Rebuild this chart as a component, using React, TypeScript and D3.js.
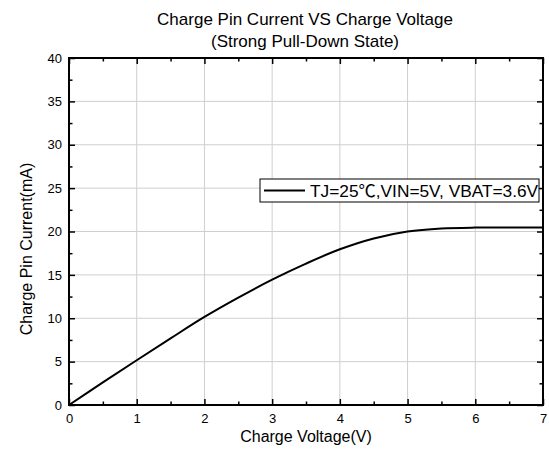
import React, { useEffect, useRef } from 'react';
import * as d3 from 'd3';

// Charge voltage (V) vs charge pin current (mA)
const voltage = [0, 0.5, 1, 1.5, 2, 2.5, 3, 3.5, 4, 4.5, 5, 5.5, 6, 6.5, 7];
const current = [0, 2.6, 5.16, 7.68, 10.15, 12.38, 14.45, 16.3, 17.95, 19.2, 20.0, 20.35, 20.45, 20.45, 20.45];

const xTicks = [0, 1, 2, 3, 4, 5, 6, 7];
const xMinor = [0.5, 1.5, 2.5, 3.5, 4.5, 5.5, 6.5];
const yTicks = [0, 5, 10, 15, 20, 25, 30, 35, 40];
const yMinor = [2.5, 7.5, 12.5, 17.5, 22.5, 27.5, 32.5, 37.5];

const titleLines = ['Charge Pin Current VS Charge Voltage', '(Strong Pull-Down State)'];
const legendLabel = 'TJ=25\u2103,VIN=5V, VBAT=3.6V';

const FONT = "Arial, 'Liberation Sans', 'Noto Sans CJK SC', sans-serif";

const App = () => {
  const ref = useRef<SVGSVGElement>(null);

  useEffect(() => {
    if (!ref.current) return;
    const svg = d3.select(ref.current);
    svg.selectAll('*').remove();

    const left = 69, right = 543, top = 58, bottom = 405;
    const x = d3.scaleLinear().domain([0, 7]).range([left, right]);
    const y = d3.scaleLinear().domain([0, 40]).range([bottom, top]);

    // grid
    const grid = svg.append('g').attr('stroke', '#cfcfcf').attr('stroke-width', 1);
    grid.selectAll('line.v')
      .data(xTicks.slice(1, -1))
      .join('line')
      .attr('class', 'v')
      .attr('x1', d => x(d)).attr('x2', d => x(d))
      .attr('y1', top).attr('y2', bottom);
    grid.selectAll('line.h')
      .data(yTicks.slice(1, -1))
      .join('line')
      .attr('class', 'h')
      .attr('x1', left).attr('x2', right)
      .attr('y1', d => y(d)).attr('y2', d => y(d));

    // axes: inward ticks on all four sides
    const styleAxis = (g: d3.Selection<SVGGElement, unknown, null, undefined>) => {
      g.select('.domain').remove();
      g.selectAll('line').attr('stroke', '#000').attr('stroke-width', 1.5);
      g.selectAll('text').attr('fill', '#000').style('font-family', FONT).style('font-size', '13px');
    };

    svg.append('g').attr('transform', `translate(0,${bottom})`)
      .call(d3.axisBottom(x).tickValues(xTicks).tickSize(-6).tickPadding(9).tickFormat(d3.format('d')))
      .call(styleAxis);
    svg.append('g').attr('transform', `translate(0,${bottom})`)
      .call(d3.axisBottom(x).tickValues(xMinor).tickSize(-3.5).tickFormat(() => ''))
      .call(styleAxis);
    svg.append('g').attr('transform', `translate(0,${top})`)
      .call(d3.axisTop(x).tickValues(xTicks).tickSize(-6).tickFormat(() => ''))
      .call(styleAxis);
    svg.append('g').attr('transform', `translate(0,${top})`)
      .call(d3.axisTop(x).tickValues(xMinor).tickSize(-3.5).tickFormat(() => ''))
      .call(styleAxis);

    svg.append('g').attr('transform', `translate(${left},0)`)
      .call(d3.axisLeft(y).tickValues(yTicks).tickSize(-6).tickPadding(7).tickFormat(d3.format('d')))
      .call(styleAxis);
    svg.append('g').attr('transform', `translate(${left},0)`)
      .call(d3.axisLeft(y).tickValues(yMinor).tickSize(-3.5).tickFormat(() => ''))
      .call(styleAxis);
    svg.append('g').attr('transform', `translate(${right},0)`)
      .call(d3.axisRight(y).tickValues(yTicks).tickSize(-6).tickFormat(() => ''))
      .call(styleAxis);
    svg.append('g').attr('transform', `translate(${right},0)`)
      .call(d3.axisRight(y).tickValues(yMinor).tickSize(-3.5).tickFormat(() => ''))
      .call(styleAxis);

    // frame
    svg.append('rect')
      .attr('x', left).attr('y', top)
      .attr('width', right - left).attr('height', bottom - top)
      .attr('fill', 'none').attr('stroke', '#000').attr('stroke-width', 2);

    // curve
    const points = voltage.map((v, i) => [v, current[i]] as [number, number]);
    const line = d3.line<[number, number]>()
      .x(d => x(d[0]))
      .y(d => y(d[1]))
      .curve(d3.curveCatmullRom.alpha(0.5));
    svg.append('path')
      .datum(points)
      .attr('d', line)
      .attr('fill', 'none')
      .attr('stroke', '#000')
      .attr('stroke-width', 2);

    // legend
    const lg = svg.append('g');
    lg.append('rect')
      .attr('x', 260).attr('y', 179).attr('width', 279).attr('height', 23)
      .attr('fill', '#fff').attr('stroke', '#000').attr('stroke-width', 1);
    lg.append('line')
      .attr('x1', 264).attr('x2', 305).attr('y1', 190.5).attr('y2', 190.5)
      .attr('stroke', '#000').attr('stroke-width', 2);
    lg.append('text')
      .attr('x', 310).attr('y', 197)
      .style('font-family', FONT).style('font-size', '17.3px')
      .text(legendLabel);

    // titles
    svg.selectAll('text.title')
      .data(titleLines)
      .join('text')
      .attr('class', 'title')
      .attr('x', 305)
      .attr('y', (_, i) => 25 + i * 22)
      .attr('text-anchor', 'middle')
      .style('font-family', FONT).style('font-size', '17px')
      .text(d => d);

    svg.append('text')
      .attr('x', (left + right) / 2).attr('y', 442)
      .attr('text-anchor', 'middle')
      .style('font-family', FONT).style('font-size', '16px')
      .text('Charge Voltage(V)');

    svg.append('text')
      .attr('transform', 'translate(32,249) rotate(-90)')
      .attr('text-anchor', 'middle')
      .style('font-family', FONT).style('font-size', '16px')
      .text('Charge Pin Current(mA)');
  }, []);

  return (
    <svg
      ref={ref}
      width={549}
      height={453}
      style={{ position: 'absolute', left: 0, top: 0, background: '#fff' }}
    />
  );
};

export default App;
